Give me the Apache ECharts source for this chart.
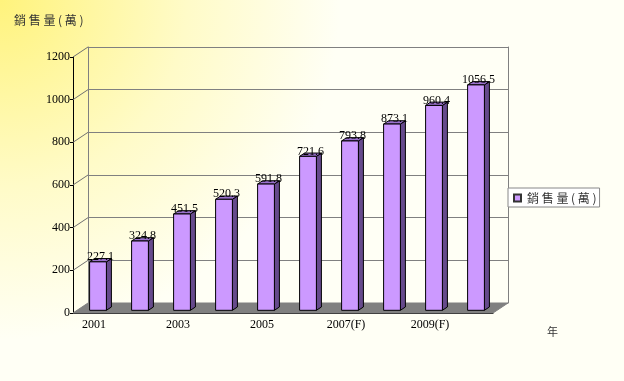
<!DOCTYPE html>
<html><head><meta charset="utf-8">
<script src="https://cdn.jsdelivr.net/npm/echarts@6/dist/echarts.min.js"></script>
<style>html,body{margin:0;padding:0;}#c{width:624px;height:381px;}</style>
</head><body><div id="c"></div>
<script>
const categories = ['2001','2002','2003','2004','2005','2006','2007(F)','2008(F)','2009(F)','2010(F)'];
const values = [227.1, 324.8, 451.5, 520.3, 591.8, 721.6, 793.8, 873.1, 960.4, 1056.5];
const yTicks = [0, 200, 400, 600, 800, 1000, 1200];
const seriesName = '銷售量(萬)';

const DX = 15, DY = -10; // wall depth offset
const chart = echarts.init(document.getElementById('c'));
const serif = '"Liberation Serif","DejaVu Serif",serif';
const cjk = '"Noto Sans CJK TC","Noto Sans CJK SC",sans-serif';

function floorRender(params, api) {
  const cs = params.coordSys;
  const x0 = cs.x, x1 = cs.x + cs.width, yb = cs.y + cs.height;
  return {
    type: 'polygon',
    shape: { points: [[x0, yb], [x1, yb], [x1 + DX, yb + DY], [x0 + DX, yb + DY]] },
    style: { fill: '#808080', stroke: '#808080', lineWidth: 1 },
    silent: true
  };
}
function sideRender(params, api) {
  const cs = params.coordSys;
  const p = api.coord([0, api.value(0)]);
  const x0 = cs.x;
  return {
    type: 'line',
    shape: { x1: x0, y1: p[1], x2: x0 + DX, y2: p[1] + DY },
    style: { stroke: '#707070', lineWidth: 1 },
    silent: true
  };
}
function barRender(params, api) {
  const i = api.value(0);
  const v = api.value(1);
  const top = api.coord([i, v]);
  const base = api.coord([i, 0]);
  const band = api.size([1, 0])[0];
  const w = band * 0.4;
  const fdx = 4, fdy = -2.7, bdx = 9, bdy = -6;
  const xl = top[0] - w / 2 + fdx, xr = xl + w;
  const yt = top[1] + fdy, yb = base[1] + fdy;
  const sdx = bdx - fdx, sdy = bdy - fdy;
  const edge = { stroke: '#000', lineWidth: 1 };
  return {
    type: 'group',
    children: [
      { type: 'polygon', shape: { points: [[xr, yt], [xr + sdx, yt + sdy], [xr + sdx, yb + sdy], [xr, yb]] },
        style: Object.assign({ fill: '#664A8C' }, edge) },
      { type: 'polygon', shape: { points: [[xl, yt], [xr, yt], [xr + sdx, yt + sdy], [xl + sdx, yt + sdy]] },
        style: Object.assign({ fill: '#9970CC' }, edge) },
      { type: 'rect', shape: { x: xl, y: yt, width: w, height: yb - yt },
        style: Object.assign({ fill: '#CC99FF' }, edge) },
      { type: 'text', style: { text: String(v), x: (xl + xr + sdx) / 2, y: yt - 5,
          align: 'center', verticalAlign: 'middle', fill: '#000', font: '12px ' + serif } }
    ]
  };
}

const option = {
  backgroundColor: {
    type: 'radial', x: 0, y: 0, r: 340, global: true,
    colorStops: [{ offset: 0, color: '#FFF37C' }, { offset: 0.55, color: '#FFFBC8' }, { offset: 1, color: '#FFFFF5' }]
  },
  animation: false,
  legend: {
    data: [{ name: seriesName, icon: 'rect' }],
    left: 508, top: 188,
    itemWidth: 7, itemHeight: 7, itemGap: 4,
    backgroundColor: '#fff', borderColor: '#888', borderWidth: 1, borderRadius: 0,
    padding: [4, 3, 3, 5],
    formatter: n => n.split('').join(' '),
    textStyle: { fontFamily: cjk, fontSize: 12, color: '#333', padding: [0, 0, 0, 1] }
  },
  graphic: [
    { type: 'text', left: 14, top: 14, style: { text: '銷 售 量 ( 萬 )', font: '12px ' + cjk, fill: '#333' } },
    { type: 'text', left: 547, top: 326, style: { text: '年', font: '11px ' + cjk, fill: '#333' } }
  ],
  grid: [
    { left: 73, top: 57, width: 420, height: 256 },
    { left: 88, top: 47, width: 420, height: 256 }
  ],
  xAxis: [
    { type: 'category', gridIndex: 0, data: categories,
      axisLine: { lineStyle: { color: '#000', width: 1 } },
      axisTick: { interval: 0, length: 4, lineStyle: { color: '#000' } },
      axisLabel: { interval: 1, color: '#000', fontFamily: serif, fontSize: 12, margin: 6 } },
    { type: 'category', gridIndex: 1, data: categories, show: false }
  ],
  yAxis: [
    { type: 'value', gridIndex: 0, min: 0, max: 1200, interval: 200,
      axisLine: { show: true, lineStyle: { color: '#000', width: 1 } },
      axisTick: { show: true, length: 3, lineStyle: { color: '#000' } },
      splitLine: { show: false },
      axisLabel: { color: '#000', fontFamily: serif, fontSize: 12, margin: 3, formatter: v => String(v) } },
    { type: 'value', gridIndex: 1, min: 0, max: 1200, interval: 200,
      axisLine: { show: true, lineStyle: { color: '#808080' } },
      axisTick: { show: false }, axisLabel: { show: false },
      splitLine: { show: true, lineStyle: { color: '#808080', width: 1 } } },
    { type: 'value', gridIndex: 1, min: 0, max: 1200, interval: 200, position: 'right',
      axisLine: { show: true, lineStyle: { color: '#808080' } },
      axisTick: { show: false }, axisLabel: { show: false }, splitLine: { show: false } }
  ],
  series: [
    { type: 'custom', name: 'floor', xAxisIndex: 0, yAxisIndex: 0, data: [[0]], renderItem: floorRender, silent: true, z: 1 },
    { type: 'custom', name: 'side', xAxisIndex: 0, yAxisIndex: 0, data: yTicks.slice(1).map(t => [t]), renderItem: sideRender, silent: true, z: 1 },
    { type: 'custom', name: seriesName, xAxisIndex: 0, yAxisIndex: 0,
      itemStyle: { color: '#CC99FF', borderColor: '#333', borderWidth: 1 },
      data: values.map((v, i) => [i, v]), renderItem: barRender, z: 3,
      encode: { x: 0, y: 1 } }
  ]
};
chart.setOption(option);
</script>
</body></html>
